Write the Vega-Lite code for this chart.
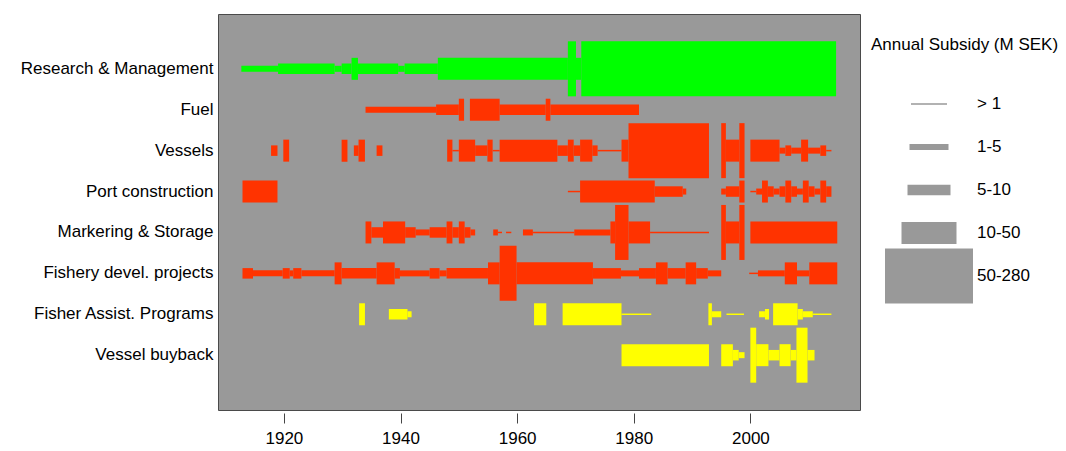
{
  "$schema": "https://vega.github.io/schema/vega-lite/v6.json",
  "background": "white",
  "padding": {"left": 19, "top": 13, "right": 0, "bottom": 0},
  "bounds": "flush",
  "spacing": 3,
  "config": {"font": "Liberation Sans", "view": {"stroke": null}},
  "datasets": {
    "segs": [
      {"program": "Research & Management", "from": 1912.7, "to": 1919, "msek": 3},
      {"program": "Research & Management", "from": 1919, "to": 1928.7, "msek": 7},
      {"program": "Research & Management", "from": 1928.7, "to": 1929.9, "msek": 3},
      {"program": "Research & Management", "from": 1929.9, "to": 1931.6, "msek": 7},
      {"program": "Research & Management", "from": 1931.6, "to": 1932.7, "msek": 30},
      {"program": "Research & Management", "from": 1932.7, "to": 1939.6, "msek": 7},
      {"program": "Research & Management", "from": 1939.6, "to": 1940.7, "msek": 3},
      {"program": "Research & Management", "from": 1940.7, "to": 1946.4, "msek": 7},
      {"program": "Research & Management", "from": 1946.4, "to": 1968.7, "msek": 30},
      {"program": "Research & Management", "from": 1968.7, "to": 1970.1, "msek": 150},
      {"program": "Research & Management", "from": 1970.1, "to": 1971, "msek": 30},
      {"program": "Research & Management", "from": 1971, "to": 2014.7, "msek": 150},
      {"program": "Fuel", "from": 1934, "to": 1946.1, "msek": 3},
      {"program": "Fuel", "from": 1946.1, "to": 1950, "msek": 7},
      {"program": "Fuel", "from": 1950, "to": 1950.9, "msek": 30},
      {"program": "Fuel", "from": 1951.9, "to": 1957, "msek": 30},
      {"program": "Fuel", "from": 1957, "to": 1964.9, "msek": 7},
      {"program": "Fuel", "from": 1964.9, "to": 1965.7, "msek": 30},
      {"program": "Fuel", "from": 1965.7, "to": 1980.9, "msek": 7},
      {"program": "Vessels", "from": 1917.8, "to": 1918.9, "msek": 7},
      {"program": "Vessels", "from": 1919.9, "to": 1920.9, "msek": 30},
      {"program": "Vessels", "from": 1929.9, "to": 1930.9, "msek": 30},
      {"program": "Vessels", "from": 1932, "to": 1932.8, "msek": 7},
      {"program": "Vessels", "from": 1932.8, "to": 1933.9, "msek": 30},
      {"program": "Vessels", "from": 1935.9, "to": 1936.9, "msek": 7},
      {"program": "Vessels", "from": 1948, "to": 1948.9, "msek": 30},
      {"program": "Vessels", "from": 1948.9, "to": 1950, "msek": 0.5},
      {"program": "Vessels", "from": 1950, "to": 1952.8, "msek": 30},
      {"program": "Vessels", "from": 1952.8, "to": 1954.9, "msek": 7},
      {"program": "Vessels", "from": 1954.9, "to": 1955.8, "msek": 30},
      {"program": "Vessels", "from": 1955.8, "to": 1957, "msek": 0.5},
      {"program": "Vessels", "from": 1957, "to": 1966.9, "msek": 30},
      {"program": "Vessels", "from": 1966.9, "to": 1968.7, "msek": 7},
      {"program": "Vessels", "from": 1968.7, "to": 1969.7, "msek": 30},
      {"program": "Vessels", "from": 1969.7, "to": 1970.8, "msek": 7},
      {"program": "Vessels", "from": 1970.8, "to": 1972.9, "msek": 30},
      {"program": "Vessels", "from": 1972.9, "to": 1973.8, "msek": 7},
      {"program": "Vessels", "from": 1973.8, "to": 1977.9, "msek": 0.5},
      {"program": "Vessels", "from": 1977.9, "to": 1979.1, "msek": 30},
      {"program": "Vessels", "from": 1979.1, "to": 1992.9, "msek": 150},
      {"program": "Vessels", "from": 1995, "to": 1995.8, "msek": 150},
      {"program": "Vessels", "from": 1995.8, "to": 1998.1, "msek": 30},
      {"program": "Vessels", "from": 1998.1, "to": 1999, "msek": 150},
      {"program": "Vessels", "from": 2000, "to": 2005, "msek": 30},
      {"program": "Vessels", "from": 2005, "to": 2006, "msek": 3},
      {"program": "Vessels", "from": 2006, "to": 2007, "msek": 7},
      {"program": "Vessels", "from": 2007, "to": 2008.7, "msek": 3},
      {"program": "Vessels", "from": 2008.7, "to": 2009.9, "msek": 30},
      {"program": "Vessels", "from": 2009.9, "to": 2012, "msek": 3},
      {"program": "Vessels", "from": 2012, "to": 2013, "msek": 7},
      {"program": "Vessels", "from": 2013, "to": 2013.9, "msek": 0.5},
      {"program": "Port construction", "from": 1912.9, "to": 1918.9, "msek": 30},
      {"program": "Port construction", "from": 1968.7, "to": 1970.8, "msek": 0.5},
      {"program": "Port construction", "from": 1970.8, "to": 1983.6, "msek": 30},
      {"program": "Port construction", "from": 1983.6, "to": 1988.4, "msek": 7},
      {"program": "Port construction", "from": 1988.4, "to": 1989, "msek": 3},
      {"program": "Port construction", "from": 1995, "to": 1995.8, "msek": 3},
      {"program": "Port construction", "from": 1995.8, "to": 1998.1, "msek": 7},
      {"program": "Port construction", "from": 1998.1, "to": 1999, "msek": 30},
      {"program": "Port construction", "from": 2000, "to": 2001, "msek": 0.5},
      {"program": "Port construction", "from": 2001, "to": 2002, "msek": 3},
      {"program": "Port construction", "from": 2002, "to": 2003, "msek": 30},
      {"program": "Port construction", "from": 2003, "to": 2004, "msek": 7},
      {"program": "Port construction", "from": 2004, "to": 2005, "msek": 3},
      {"program": "Port construction", "from": 2005, "to": 2006, "msek": 7},
      {"program": "Port construction", "from": 2006, "to": 2007, "msek": 30},
      {"program": "Port construction", "from": 2007, "to": 2008, "msek": 7},
      {"program": "Port construction", "from": 2008, "to": 2009, "msek": 3},
      {"program": "Port construction", "from": 2009, "to": 2010, "msek": 30},
      {"program": "Port construction", "from": 2010, "to": 2011, "msek": 7},
      {"program": "Port construction", "from": 2011, "to": 2012, "msek": 3},
      {"program": "Port construction", "from": 2012, "to": 2013, "msek": 30},
      {"program": "Port construction", "from": 2013, "to": 2013.9, "msek": 7},
      {"program": "Markering & Storage", "from": 1934, "to": 1935, "msek": 30},
      {"program": "Markering & Storage", "from": 1935, "to": 1937, "msek": 7},
      {"program": "Markering & Storage", "from": 1937, "to": 1940.8, "msek": 30},
      {"program": "Markering & Storage", "from": 1940.8, "to": 1942.6, "msek": 7},
      {"program": "Markering & Storage", "from": 1942.6, "to": 1945, "msek": 3},
      {"program": "Markering & Storage", "from": 1945, "to": 1947.9, "msek": 7},
      {"program": "Markering & Storage", "from": 1947.9, "to": 1948.9, "msek": 30},
      {"program": "Markering & Storage", "from": 1948.9, "to": 1950, "msek": 7},
      {"program": "Markering & Storage", "from": 1950, "to": 1951, "msek": 30},
      {"program": "Markering & Storage", "from": 1951, "to": 1952, "msek": 7},
      {"program": "Markering & Storage", "from": 1952, "to": 1952.8, "msek": 3},
      {"program": "Markering & Storage", "from": 1955.9, "to": 1956.7, "msek": 3},
      {"program": "Markering & Storage", "from": 1956.7, "to": 1957.4, "msek": 0.5},
      {"program": "Markering & Storage", "from": 1958.1, "to": 1959, "msek": 0.5},
      {"program": "Markering & Storage", "from": 1961, "to": 1962.7, "msek": 3},
      {"program": "Markering & Storage", "from": 1962.7, "to": 1969.8, "msek": 0.5},
      {"program": "Markering & Storage", "from": 1969.8, "to": 1976, "msek": 3},
      {"program": "Markering & Storage", "from": 1976, "to": 1976.8, "msek": 30},
      {"program": "Markering & Storage", "from": 1976.8, "to": 1979.1, "msek": 150},
      {"program": "Markering & Storage", "from": 1979.1, "to": 1982.8, "msek": 30},
      {"program": "Markering & Storage", "from": 1982.8, "to": 1992.9, "msek": 0.5},
      {"program": "Markering & Storage", "from": 1995, "to": 1995.8, "msek": 150},
      {"program": "Markering & Storage", "from": 1995.8, "to": 1998.1, "msek": 30},
      {"program": "Markering & Storage", "from": 1998.1, "to": 1999, "msek": 150},
      {"program": "Markering & Storage", "from": 2000, "to": 2014.9, "msek": 30},
      {"program": "Fishery devel. projects", "from": 1912.9, "to": 1914.7, "msek": 7},
      {"program": "Fishery devel. projects", "from": 1914.7, "to": 1919.8, "msek": 3},
      {"program": "Fishery devel. projects", "from": 1919.8, "to": 1921, "msek": 7},
      {"program": "Fishery devel. projects", "from": 1921, "to": 1921.6, "msek": 3},
      {"program": "Fishery devel. projects", "from": 1921.6, "to": 1923, "msek": 7},
      {"program": "Fishery devel. projects", "from": 1923, "to": 1928.7, "msek": 3},
      {"program": "Fishery devel. projects", "from": 1928.7, "to": 1929.9, "msek": 30},
      {"program": "Fishery devel. projects", "from": 1929.9, "to": 1935.9, "msek": 7},
      {"program": "Fishery devel. projects", "from": 1935.9, "to": 1939, "msek": 30},
      {"program": "Fishery devel. projects", "from": 1939, "to": 1939.9, "msek": 7},
      {"program": "Fishery devel. projects", "from": 1939.9, "to": 1945, "msek": 3},
      {"program": "Fishery devel. projects", "from": 1945, "to": 1946.7, "msek": 7},
      {"program": "Fishery devel. projects", "from": 1946.7, "to": 1947.9, "msek": 3},
      {"program": "Fishery devel. projects", "from": 1947.9, "to": 1955, "msek": 7},
      {"program": "Fishery devel. projects", "from": 1955, "to": 1957, "msek": 30},
      {"program": "Fishery devel. projects", "from": 1957, "to": 1959.9, "msek": 150},
      {"program": "Fishery devel. projects", "from": 1959.9, "to": 1973, "msek": 30},
      {"program": "Fishery devel. projects", "from": 1973, "to": 1977.8, "msek": 7},
      {"program": "Fishery devel. projects", "from": 1977.8, "to": 1980.9, "msek": 3},
      {"program": "Fishery devel. projects", "from": 1980.9, "to": 1983.8, "msek": 7},
      {"program": "Fishery devel. projects", "from": 1983.8, "to": 1985.8, "msek": 30},
      {"program": "Fishery devel. projects", "from": 1985.8, "to": 1988.9, "msek": 7},
      {"program": "Fishery devel. projects", "from": 1988.9, "to": 1990.7, "msek": 30},
      {"program": "Fishery devel. projects", "from": 1990.7, "to": 1992.7, "msek": 7},
      {"program": "Fishery devel. projects", "from": 1992.7, "to": 1995, "msek": 3},
      {"program": "Fishery devel. projects", "from": 1999.8, "to": 2001.3, "msek": 0.5},
      {"program": "Fishery devel. projects", "from": 2001.3, "to": 2005.9, "msek": 3},
      {"program": "Fishery devel. projects", "from": 2005.9, "to": 2008, "msek": 30},
      {"program": "Fishery devel. projects", "from": 2008, "to": 2010.1, "msek": 3},
      {"program": "Fishery devel. projects", "from": 2010.1, "to": 2014.9, "msek": 30},
      {"program": "Fisher Assist. Programs", "from": 1932.9, "to": 1933.9, "msek": 30},
      {"program": "Fisher Assist. Programs", "from": 1938, "to": 1941.2, "msek": 7},
      {"program": "Fisher Assist. Programs", "from": 1941.2, "to": 1941.9, "msek": 3},
      {"program": "Fisher Assist. Programs", "from": 1962.9, "to": 1965, "msek": 30},
      {"program": "Fisher Assist. Programs", "from": 1967.8, "to": 1977.9, "msek": 30},
      {"program": "Fisher Assist. Programs", "from": 1977.9, "to": 1983, "msek": 0.5},
      {"program": "Fisher Assist. Programs", "from": 1992.8, "to": 1993.4, "msek": 30},
      {"program": "Fisher Assist. Programs", "from": 1993.4, "to": 1995, "msek": 3},
      {"program": "Fisher Assist. Programs", "from": 1995.9, "to": 1998.9, "msek": 0.5},
      {"program": "Fisher Assist. Programs", "from": 2001.5, "to": 2002.5, "msek": 3},
      {"program": "Fisher Assist. Programs", "from": 2002.5, "to": 2003.2, "msek": 7},
      {"program": "Fisher Assist. Programs", "from": 2003.9, "to": 2008.1, "msek": 30},
      {"program": "Fisher Assist. Programs", "from": 2008.1, "to": 2009, "msek": 7},
      {"program": "Fisher Assist. Programs", "from": 2009, "to": 2010.7, "msek": 3},
      {"program": "Fisher Assist. Programs", "from": 2010.7, "to": 2013.9, "msek": 0.5},
      {"program": "Vessel buyback", "from": 1977.9, "to": 1992.9, "msek": 30},
      {"program": "Vessel buyback", "from": 1995, "to": 1997, "msek": 30},
      {"program": "Vessel buyback", "from": 1997, "to": 1998, "msek": 7},
      {"program": "Vessel buyback", "from": 1998, "to": 1999, "msek": 3},
      {"program": "Vessel buyback", "from": 2000, "to": 2001, "msek": 150},
      {"program": "Vessel buyback", "from": 2001, "to": 2003.1, "msek": 30},
      {"program": "Vessel buyback", "from": 2003.1, "to": 2005, "msek": 7},
      {"program": "Vessel buyback", "from": 2005, "to": 2006.9, "msek": 30},
      {"program": "Vessel buyback", "from": 2006.9, "to": 2007.9, "msek": 7},
      {"program": "Vessel buyback", "from": 2007.9, "to": 2009.8, "msek": 150},
      {"program": "Vessel buyback", "from": 2009.8, "to": 2011, "msek": 7}
    ],
    "keys": [
      {"label": "> 1", "msek": 0.5},
      {"label": "1-5", "msek": 3},
      {"label": "5-10", "msek": 7},
      {"label": "10-50", "msek": 30},
      {"label": "50-280", "msek": 150}
    ]
  },
  "hconcat": [
    {
      "width": 642,
      "height": 396,
      "view": {"fill": "#999999", "stroke": "#4a4a4a", "strokeWidth": 1},
      "data": {"name": "segs"},
      "mark": {"type": "bar"},
      "encoding": {
        "y": {
          "field": "program",
          "type": "nominal",
          "scale": {
            "domain": ["Research & Management", "Fuel", "Vessels", "Port construction", "Markering & Storage", "Fishery devel. projects", "Fisher Assist. Programs", "Vessel buyback"],
            "paddingInner": 0,
            "paddingOuter": 0.84
          },
          "axis": {"title": null, "ticks": false, "domain": false, "labelFontSize": 17, "labelPadding": 5, "labelColor": "#000000", "labelLimit": 0}
        },
        "x": {
          "field": "from",
          "type": "quantitative",
          "scale": {"domain": [1908.7, 2018.8], "nice": false, "zero": false},
          "axis": {"title": null, "values": [1920, 1940, 1960, 1980, 2000], "format": "d", "grid": false, "domain": false, "offset": 3, "tickSize": 10, "tickColor": "#444444", "labelFontSize": 17, "labelPadding": 7, "labelColor": "#000000"}
        },
        "x2": {"field": "to"},
        "size": {
          "field": "msek",
          "type": "quantitative",
          "scale": {"type": "threshold", "domain": [1, 5, 10, 50], "range": [1.5, 6, 10.5, 22, 55]},
          "legend": null
        },
        "color": {
          "field": "program",
          "type": "nominal",
          "scale": {
            "domain": ["Research & Management", "Fuel", "Vessels", "Port construction", "Markering & Storage", "Fishery devel. projects", "Fisher Assist. Programs", "Vessel buyback"],
            "range": ["#00ff00", "#ff3300", "#ff3300", "#ff3300", "#ff3300", "#ff3300", "#ffff00", "#ffff00"]
          },
          "legend": null
        }
      }
    },
    {
      "width": 200,
      "height": 301,
      "data": {"name": "keys"},
      "title": {"text": "Annual Subsidy (M SEK)", "anchor": "start", "frame": "group", "offset": 0, "dx": 8, "dy": 53, "fontSize": 17, "fontWeight": "normal", "baseline": "alphabetic", "color": "#000000"},
      "encoding": {
        "y": {
          "field": "label",
          "type": "nominal",
          "scale": {"domain": ["> 1", "1-5", "5-10", "10-50", "50-280"], "paddingInner": 0, "paddingOuter": 1, "align": 0.797},
          "axis": null
        },
        "size": {
          "field": "msek",
          "type": "quantitative",
          "scale": {"type": "threshold", "domain": [1, 5, 10, 50], "range": [1.5, 6, 10.5, 22, 55]},
          "legend": null
        }
      },
      "layer": [
        {
          "transform": [{"filter": "datum.msek == 0.5"}],
          "mark": {"type": "bar", "color": "#999999"},
          "encoding": {"x": {"datum": 48, "type": "quantitative", "scale": {"domain": [0, 200], "nice": false, "zero": false}, "axis": null}, "x2": {"datum": 84}}
        },
        {
          "transform": [{"filter": "datum.msek == 3"}],
          "mark": {"type": "bar", "color": "#999999"},
          "encoding": {"x": {"datum": 46.5, "type": "quantitative", "scale": {"domain": [0, 200], "nice": false, "zero": false}, "axis": null}, "x2": {"datum": 85.5}}
        },
        {
          "transform": [{"filter": "datum.msek == 7"}],
          "mark": {"type": "bar", "color": "#999999"},
          "encoding": {"x": {"datum": 44.5, "type": "quantitative", "scale": {"domain": [0, 200], "nice": false, "zero": false}, "axis": null}, "x2": {"datum": 87.5}}
        },
        {
          "transform": [{"filter": "datum.msek == 30"}],
          "mark": {"type": "bar", "color": "#999999"},
          "encoding": {"x": {"datum": 38.5, "type": "quantitative", "scale": {"domain": [0, 200], "nice": false, "zero": false}, "axis": null}, "x2": {"datum": 93.5}}
        },
        {
          "transform": [{"filter": "datum.msek == 150"}],
          "mark": {"type": "bar", "color": "#999999"},
          "encoding": {"x": {"datum": 22, "type": "quantitative", "scale": {"domain": [0, 200], "nice": false, "zero": false}, "axis": null}, "x2": {"datum": 110}}
        },
        {
          "mark": {"type": "text", "align": "left", "baseline": "middle", "fontSize": 17, "color": "#000000"},
          "encoding": {"x": {"datum": 114, "type": "quantitative", "scale": {"domain": [0, 200], "nice": false, "zero": false}, "axis": null}, "text": {"field": "label"}, "size": null}
        }
      ]
    }
  ]
}
